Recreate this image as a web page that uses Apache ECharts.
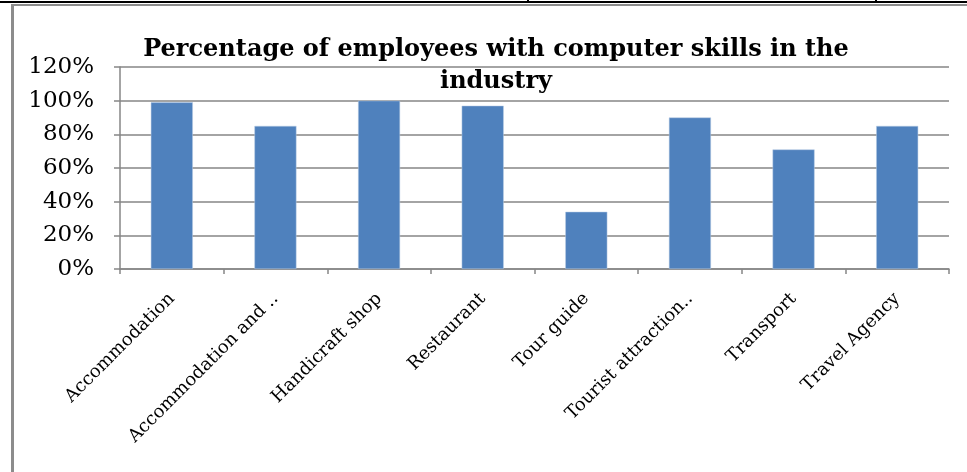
<!DOCTYPE html>
<html>
<head>
<meta charset="utf-8">
<script src="https://cdn.jsdelivr.net/npm/echarts@6/dist/echarts.min.js"></script>
<style>
  html, body { margin: 0; padding: 0; background: #fff; }
  #chart { width: 967px; height: 472px; }
</style>
</head>
<body>
<div id="chart"></div>
<script>
// Share of employees with computer skills, by industry segment
const categories = [
  'Accommodation',
  'Accommodation and ..',
  'Handicraft shop',
  'Restaurant',
  'Tour guide',
  'Tourist attraction..',
  'Transport',
  'Travel Agency'
];
const skillShare = [99, 85, 100, 97, 34, 90, 71, 85];
const yTicks = [0, 20, 40, 60, 80, 100, 120];

const serif = '"DejaVu Serif", "Liberation Serif", serif';
const gridColor = '#868686';

const chart = echarts.init(document.getElementById('chart'), null, { renderer: 'canvas' });

chart.setOption({
  animation: false,
  backgroundColor: '#ffffff',
  title: {
    text: 'Percentage of employees with computer skills in the\nindustry',
    left: 491,
    top: 29,
    textAlign: 'center',
    textStyle: {
      fontFamily: serif,
      fontWeight: 'bold',
      fontSize: 24,
      lineHeight: 32,
      color: '#000'
    }
  },
  graphic: [
    // page rules around the chart frame
    { type: 'rect', shape: { x: 0, y: 1, width: 967, height: 2 }, style: { fill: '#000' }, z: 10 },
    { type: 'rect', shape: { x: 11, y: 4, width: 956, height: 2 }, style: { fill: '#8c8c8c' }, z: 10 },
    { type: 'rect', shape: { x: 11, y: 4, width: 3, height: 468 }, style: { fill: '#8c8c8c' }, z: 10 },
    { type: 'rect', shape: { x: 527, y: 0, width: 2, height: 3 }, style: { fill: '#000' }, z: 10 },
    { type: 'rect', shape: { x: 875, y: 0, width: 2, height: 3 }, style: { fill: '#000' }, z: 10 }
  ],
  grid: {
    left: 120,
    right: 18,
    top: 67,
    bottom: 203,
    containLabel: false
  },
  xAxis: {
    type: 'category',
    data: categories,
    axisLine: { show: true, lineStyle: { color: gridColor, width: 1.5 } },
    axisTick: { show: true, length: 5, alignWithLabel: false, lineStyle: { color: gridColor, width: 1.5 } },
    axisLabel: {
      rotate: 45,
      interval: 0,
      margin: 27,
      fontFamily: serif,
      fontSize: 18,
      color: '#000'
    }
  },
  yAxis: {
    type: 'value',
    min: 0,
    max: 120,
    interval: 20,
    axisLine: { show: true, lineStyle: { color: gridColor, width: 1.5 } },
    axisTick: { show: true, inside: false, length: 6, lineStyle: { color: gridColor, width: 1.5 } },
    splitLine: { show: true, lineStyle: { color: gridColor, width: 1.5 } },
    axisLabel: {
      margin: 26,
      fontFamily: serif,
      fontSize: 23,
      color: '#000',
      formatter: function (v) { return yTicks.indexOf(v) >= 0 ? v + '%' : ''; }
    }
  },
  series: [{
    type: 'bar',
    data: skillShare,
    barWidth: 42,
    itemStyle: { color: '#4f81bd', borderColor: '#b8cce4', borderWidth: 0.5 }
  }]
});
</script>
</body>
</html>
